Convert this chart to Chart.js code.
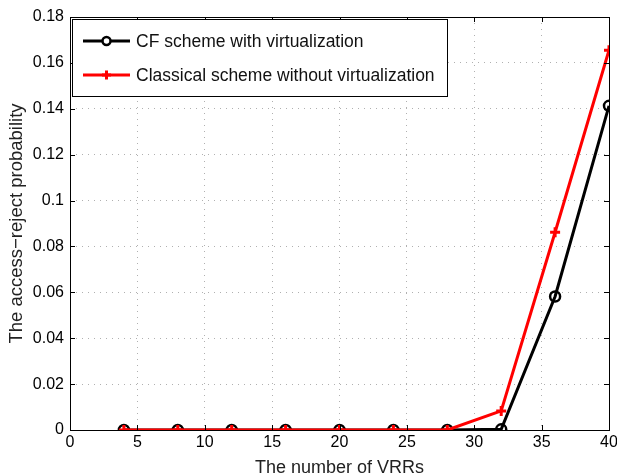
<!DOCTYPE html>
<html>
<head>
<meta charset="utf-8">
<title>Access-reject probability vs number of VRRs</title>
<script src="https://cdn.jsdelivr.net/npm/chart.js@4/dist/chart.umd.min.js"></script>
<style>
  html, body { margin: 0; padding: 0; background: #fff; }
  #wrap { width: 617px; height: 476px; }
</style>
</head>
<body>
<div id="wrap"><canvas id="plot" width="617" height="476"></canvas></div>
<script>
// number of VRRs
const vrrCounts = [4, 8, 12, 16, 20, 24, 28, 32, 36, 40];
// access-reject probability per scheme
const cfVirtual = [0, 0, 0, 0, 0, 0, 0, 0.0003, 0.0582, 0.1413];
const classicNoVirtual = [0, 0, 0, 0, 0, 0, 0, 0.0083, 0.0862, 0.1655];
const seriesNames = ['CF scheme with virtualization', 'Classical scheme without virtualization'];

const FONT = '"Liberation Sans", Arial, Helvetica, sans-serif';

const toPoints = ys => vrrCounts.map((x, i) => ({ x: x, y: ys[i] }));

// box, inward ticks and the legend box, drawn like a MATLAB axes
const axesFrame = {
    id: 'axesFrame',
    afterDraw(chart) {
        const ctx = chart.ctx;
        const a = chart.chartArea;
        const xs = chart.scales.x, ys = chart.scales.y;
        ctx.save();
        ctx.strokeStyle = '#000';
        ctx.lineWidth = 1;
        ctx.beginPath();
        xs.ticks.forEach(t => {
            const px = Math.round(xs.getPixelForValue(t.value)) + 0.5;
            ctx.moveTo(px, a.bottom); ctx.lineTo(px, a.bottom - 5);
            ctx.moveTo(px, a.top); ctx.lineTo(px, a.top + 5);
        });
        ys.ticks.forEach(t => {
            const py = Math.round(ys.getPixelForValue(t.value)) + 0.5;
            ctx.moveTo(a.left, py); ctx.lineTo(a.left + 5, py);
            ctx.moveTo(a.right, py); ctx.lineTo(a.right - 5, py);
        });
        ctx.stroke();
        ctx.strokeRect(Math.round(a.left) + 0.5, Math.round(a.top) + 0.5,
            Math.round(a.right - a.left), Math.round(a.bottom - a.top));

        // legend
        const lx = a.left + 2, ly = a.top + 2, lw = 375, lh = 77;
        ctx.fillStyle = '#fff';
        ctx.fillRect(lx, ly, lw, lh);
        ctx.strokeRect(lx + 0.5, ly + 0.5, lw, lh);
        const rows = [
            { name: seriesNames[0], color: '#000', y: ly + 22, marker: 'circle' },
            { name: seriesNames[1], color: '#ff0000', y: ly + 56, marker: 'cross' }
        ];
        rows.forEach(r => {
            ctx.strokeStyle = r.color;
            ctx.lineWidth = 3;
            ctx.beginPath();
            ctx.moveTo(lx + 11, r.y); ctx.lineTo(lx + 58, r.y);
            ctx.stroke();
            ctx.beginPath();
            if (r.marker === 'circle') {
                ctx.fillStyle = '#fff';
                ctx.lineWidth = 2.5;
                ctx.arc(lx + 34.5, r.y, 4, 0, Math.PI * 2);
                ctx.fill();
                ctx.stroke();
            } else {
                ctx.lineWidth = 3;
                ctx.moveTo(lx + 30, r.y); ctx.lineTo(lx + 39, r.y);
                ctx.moveTo(lx + 34.5, r.y - 4.5); ctx.lineTo(lx + 34.5, r.y + 4.5);
                ctx.stroke();
            }
            ctx.fillStyle = '#111';
            ctx.font = '17.5px ' + FONT;
            ctx.textBaseline = 'middle';
            ctx.textAlign = 'left';
            ctx.fillText(r.name, lx + 64, r.y + 1);
        });
        ctx.restore();
    }
};

const dotted = { color: '#b0b0b0', lineWidth: 1, drawTicks: false };

new Chart(document.getElementById('plot'), {
    type: 'line',
    data: {
        datasets: [
            {
                label: seriesNames[0],
                data: toPoints(cfVirtual),
                borderColor: '#000',
                backgroundColor: '#fff',
                borderWidth: 3,
                pointStyle: 'circle',
                pointRadius: 5,
                pointBorderWidth: 2.5,
                pointBackgroundColor: 'rgba(255,255,255,0)',
                pointBorderColor: '#000',
                tension: 0,
                order: 2
            },
            {
                label: seriesNames[1],
                data: toPoints(classicNoVirtual),
                borderColor: '#ff0000',
                backgroundColor: '#ff0000',
                borderWidth: 3,
                pointStyle: 'cross',
                pointRadius: 5,
                pointBorderWidth: 3,
                pointBorderColor: '#ff0000',
                tension: 0,
                order: 1
            }
        ]
    },
    options: {
        responsive: false,
        animation: false,
        events: [],
        layout: { padding: { top: 17, right: 8, left: 0, bottom: 0 } },
        plugins: { legend: { display: false }, tooltip: { enabled: false } },
        scales: {
            x: {
                type: 'linear',
                min: 0, max: 40,
                ticks: { stepSize: 5, color: '#000', font: { family: FONT, size: 16 }, padding: 3, maxRotation: 0 },
                grid: dotted,
                border: { display: false, dash: [1, 5] },
                title: { display: true, text: 'The number of VRRs', color: '#222', font: { family: FONT, size: 18 }, padding: { top: 2, bottom: -3 } },
                afterFit: s => { s.height = 46; s.paddingLeft = 0; s.paddingRight = 0; }
            },
            y: {
                min: 0, max: 0.18,
                ticks: { stepSize: 0.02, color: '#000', font: { family: FONT, size: 16 }, padding: 6,
                    callback: v => +v.toFixed(2) + '' },
                grid: dotted,
                border: { display: false, dash: [1, 5] },
                title: { display: true, text: 'The access\u2212reject probability', color: '#222', font: { family: FONT, size: 18.5 }, padding: 6 },
                afterFit: s => { s.width = 70; s.paddingTop = 0; s.paddingBottom = 0; }
            }
        }
    },
    plugins: [axesFrame]
});
</script>
</body>
</html>
